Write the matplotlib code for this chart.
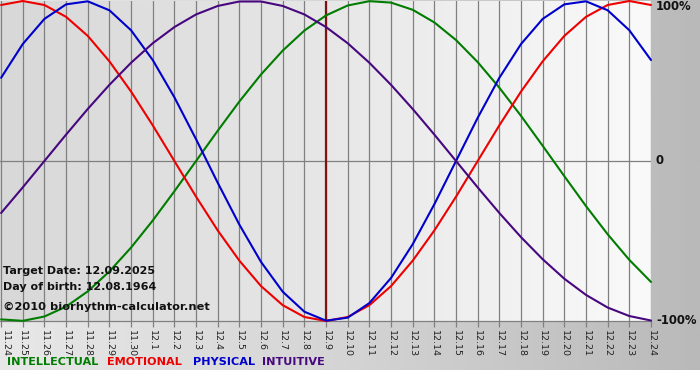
import matplotlib
matplotlib.use("Agg")
import matplotlib.pyplot as plt
import matplotlib.transforms as mtransforms
import numpy as np
from matplotlib.colors import LinearSegmentedColormap

# ---- data ----
dates = ["11.24", "11.25", "11.26", "11.27", "11.28", "11.29", "11.30",
         "12.1", "12.2", "12.3", "12.4", "12.5", "12.6", "12.7", "12.8", "12.9",
         "12.10", "12.11", "12.12", "12.13", "12.14", "12.15", "12.16", "12.17",
         "12.18", "12.19", "12.20", "12.21", "12.22", "12.23", "12.24"]

intellectual = [-0.990, -0.999, -0.972, -0.910, -0.815, -0.690, -0.541, -0.372, -0.189,
                0.000, 0.189, 0.372, 0.541, 0.690, 0.815, 0.910, 0.972, 0.999, 0.990,
                0.945, 0.866, 0.756, 0.618, 0.458, 0.282, 0.095, -0.095, -0.282,
                -0.458, -0.618, -0.756]
emotional = [0.975, 1.000, 0.975, 0.901, 0.782, 0.623, 0.434, 0.223, 0.000, -0.223,
             -0.434, -0.623, -0.782, -0.901, -0.975, -1.000, -0.975, -0.901, -0.782,
             -0.623, -0.434, -0.223, 0.000, 0.223, 0.434, 0.623, 0.782, 0.901, 0.975,
             1.000, 0.975]
physical = [0.520, 0.731, 0.888, 0.979, 0.998, 0.942, 0.817, 0.631, 0.398, 0.136,
            -0.136, -0.398, -0.631, -0.817, -0.942, -0.998, -0.979, -0.888, -0.731,
            -0.520, -0.270, 0.000, 0.270, 0.520, 0.731, 0.888, 0.979, 0.998, 0.942,
            0.817, 0.631]
intuitive = [-0.325, -0.165, 0.000, 0.165, 0.325, 0.476, 0.614, 0.736, 0.837, 0.916,
             0.969, 0.997, 0.997, 0.969, 0.916, 0.837, 0.736, 0.614, 0.476, 0.325,
             0.165, 0.000, -0.165, -0.325, -0.476, -0.614, -0.736, -0.837, -0.916,
             -0.969, -0.997]

target_label = "12.9"
y_labels = ["100%", "0", "-100%"]
legend_names = ["INTELLECTUAL", "EMOTIONAL", "PHYSICAL", "INTUITIVE"]
info_lines = ["Target Date: 12.09.2025", "Day of birth: 12.08.1964"]
copyright_text = "\u00a92010 biorhythm-calculator.net"

# ---- figure ----
W, H = 700, 380
fig = plt.figure(figsize=(W / 100, H / 100), dpi=100)
fig.patch.set_facecolor("white")

def px_rect(x0, y0, x1, y1):
    return [x0 / W, 1 - y1 / H, (x1 - x0) / W, (y1 - y0) / H]

# outer gray band with horizontal gradient
bg = fig.add_axes(px_rect(0, 0, 700, 370), zorder=-10)
outer_cmap = LinearSegmentedColormap.from_list("outer", ["#e8e8e8", "#d4d4d4", "#b9b9b9"])
bg.imshow(np.linspace(0, 1, 256)[None, :], aspect="auto", cmap=outer_cmap,
          extent=[0, 1, 0, 1])
bg.set_axis_off()

# plot area
ax = fig.add_axes(px_rect(0, 1, 651, 321), zorder=0)
x = np.arange(len(dates))
ax.set_xlim(-0.05, len(dates) - 1)
ax.set_ylim(-1.0, 1.0)

plot_cmap = LinearSegmentedColormap.from_list("plot", ["#d8d8d8", "#e7e7e7", "#fafafa"])
ax.imshow(np.linspace(0, 1, 256)[None, :], aspect="auto", cmap=plot_cmap,
          extent=[-0.05, len(dates) - 1, -1.0, 1.0], zorder=0)

grid_c = "#808080"
for xi in x:
    ax.axvline(xi, color=grid_c, lw=0.9, zorder=1)
ax.axhline(0, color=grid_c, lw=0.9, zorder=1)

ti = dates.index(target_label)
ax.axvline(ti, color="#7a1414", lw=1.6, zorder=2)

series = [(intellectual, "#007c00"), (emotional, "#ee0000"),
          (physical, "#0000cc"), (intuitive, "#46077f")]
for vals, col in series:
    ax.plot(x, vals, color=col, lw=1.5, zorder=3, clip_on=False,
            solid_capstyle="round", solid_joinstyle="round")

for s in ["top", "left", "right"]:
    ax.spines[s].set_visible(False)
ax.spines["bottom"].set_color(grid_c)
ax.spines["bottom"].set_linewidth(0.9)
ax.set_yticks([])
ax.set_xticks(x)
ax.set_xticklabels(dates, rotation=270, fontsize=6.8, color="#222222",
                   family="DejaVu Sans")
ax.tick_params(axis="x", length=4, width=0.9, color=grid_c, pad=2.5)
# nudge the first label so it is not clipped by the figure edge
first = ax.get_xticklabels()[0]
first.set_transform(first.get_transform() +
                    mtransforms.ScaledTranslation(4 / 100, 0, fig.dpi_scale_trans))

# info text inside plot
ax.text(3 / 651, 1 - (271 - 1) / 320, info_lines[0], transform=ax.transAxes,
        fontsize=8.0, fontweight="bold", color="#111111", va="center", ha="left", zorder=5)
ax.text(3 / 651, 1 - (287 - 1) / 320, info_lines[1], transform=ax.transAxes,
        fontsize=8.0, fontweight="bold", color="#111111", va="center", ha="left", zorder=5)
ax.text(3 / 651, 1 - (307 - 1) / 320, copyright_text, transform=ax.transAxes,
        fontsize=8.2, fontweight="bold", color="#111111", va="center", ha="left", zorder=5)

# right-hand labels
for lab, yp in zip(y_labels, [7, 161, 321]):
    fig.text(656 / W, 1 - yp / H, lab, fontsize=8.4, fontweight="bold",
             color="#111111", va="center", ha="left")

# legend line
legend_cols = ["#007c00", "#ee0000", "#0000cc", "#46077f"]
legend_x = [7, 107, 193, 262]
for name, col, lx in zip(legend_names, legend_cols, legend_x):
    fig.text(lx / W, 1 - 362 / H, name, fontsize=8.1, fontweight="bold", color=col,
             va="center", ha="left", family="DejaVu Sans")

fig.savefig("out.png", dpi=100, facecolor=fig.get_facecolor())
